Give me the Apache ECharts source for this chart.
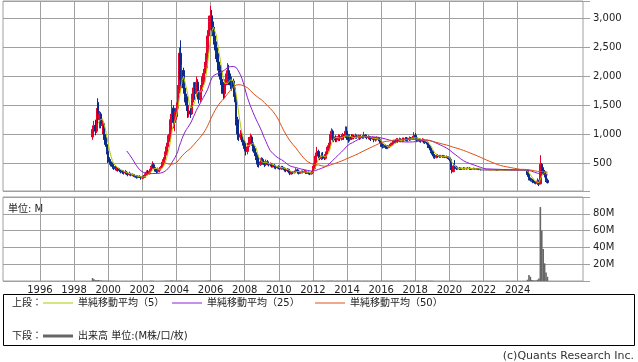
<!DOCTYPE html>
<html><head><meta charset="utf-8">
<script src="https://cdn.jsdelivr.net/npm/echarts@6/dist/echarts.min.js"></script>
<style>html,body{margin:0;padding:0;background:#fff}#c{width:638px;height:362px}</style>
</head><body><div id="c"></div>
<script>
// ---- axis categories (monthly) ----
const FIRST_CATEGORY = [1993, 11];
const CATEGORY_COUNT = 409;
const DATA_START = '1999-02';
const yearTicks = [1996,1998,2000,2002,2004,2006,2008,2010,2012,2014,2016,2018,2020,2022,2024];

// ---- monthly OHLC [open, close, low, high] ----
const ohlc1999 = [[950,1080,900,1150],[1080,1150,1000,1230],[1150,1050,980,1250],[1050,1400,1020,1450],[1550,1250,1180,1620],[1250,1350,1100,1400],[1350,1150,1100,1380],[1150,1180,1000,1250],[1180,950,900,1220],[950,820,780,1000],[820,700,650,860]];
const ohlc2000 = [[700,560,500,760],[560,520,470,600],[520,480,440,560],[480,440,400,510],[440,420,380,470],[420,400,370,450],[400,410,360,440],[410,380,350,430],[380,370,340,410],[370,350,320,390],[350,340,310,380],[340,330,300,370]];
const ohlc2001 = [[330,340,300,380],[340,320,290,360],[320,300,270,340],[300,310,280,350],[310,290,270,330],[290,300,270,320],[300,280,260,310],[280,270,250,300],[270,250,230,290],[250,270,235,290],[270,255,240,285],[255,240,210,270]];
const ohlc2002 = [[240,260,220,280],[260,250,230,290],[250,300,240,320],[300,340,280,370],[340,320,300,380],[320,360,300,400],[360,420,340,450],[420,470,400,530],[470,420,400,500],[420,380,350,440],[380,350,320,400],[350,380,330,420]];
const ohlc2003 = [[380,400,340,430],[400,420,370,450],[420,480,400,520],[480,560,450,600],[560,650,530,700],[650,780,630,850],[780,900,750,980],[900,1000,860,1070],[1000,1250,980,1350],[1250,1450,1200,1590],[1450,1200,1100,1500],[1200,1300,1050,1400]];
const ohlc2004 = [[1300,1450,1250,1550],[1450,1750,1400,1850],[1750,2400,1700,2500],[2400,1950,1850,2625],[1950,2100,1800,2200],[2100,1800,1700,2150],[1800,1650,1550,1900],[1650,1500,1400,1700],[1500,1350,1280,1550],[1350,1400,1290,1500],[1400,1350,1280,1480],[1350,1600,1330,1700]];
const ohlc2005 = [[1600,1800,1550,1900],[1800,1700,1600,1900],[1700,1900,1650,2000],[1900,1700,1600,1950],[1700,1600,1530,1800],[1600,1750,1550,1850],[1750,1900,1700,2000],[1900,2050,1850,2130],[2050,2150,1900,2250],[2150,2400,2100,2500],[2400,2700,2350,2800],[2700,2950,2650,3050]];
const ohlc2006 = [[2950,3050,2800,3220],[3050,2850,2700,3150],[2850,2700,2550,2950],[2700,2600,2450,2850],[2600,2400,2300,2700],[2400,2250,2100,2500],[2250,2100,2000,2350],[2100,1950,1850,2200],[1950,1800,1700,2050],[1800,1700,1600,1900],[1700,1850,1620,1950],[1850,1950,1750,2050]];
const ohlc2007 = [[1950,2100,1850,2230],[2100,1950,1850,2200],[1950,1850,1780,2050],[1850,1920,1750,2000],[1920,1800,1700,1960],[1800,1650,1550,1850],[1650,1250,1150,1700],[1250,1000,900,1300],[1000,950,880,1080],[950,1000,900,1070],[1000,900,860,1050],[900,850,800,950]];
const ohlc2008 = [[850,750,700,900],[750,700,630,800],[700,780,650,850],[780,880,720,950],[880,950,820,1010],[950,850,800,980],[850,750,700,880],[750,680,620,800],[680,600,550,720],[600,480,430,650],[480,470,420,540],[470,520,450,580]];
const ohlc2009 = [[520,560,480,600],[560,500,470,590],[500,470,430,530],[470,520,450,560],[520,490,460,550],[490,470,440,520],[470,480,440,510],[480,450,420,500],[450,460,420,490],[460,430,400,480],[430,420,390,460],[420,430,400,450]];
const ohlc2010 = [[430,420,390,460],[420,400,380,440],[400,430,380,450],[430,410,390,450],[410,380,350,420],[380,370,340,400],[370,390,350,410],[390,350,320,400],[350,310,290,360],[310,340,300,360],[340,330,310,360],[330,350,320,370]];
const ohlc2011 = [[350,380,330,410],[380,360,340,400],[360,320,300,380],[320,340,310,360],[340,350,320,370],[350,340,320,370],[340,360,330,380],[360,330,310,370],[330,340,310,360],[340,320,300,350],[320,310,290,340],[310,330,300,360]];
const ohlc2012 = [[330,400,320,450],[400,500,380,560],[500,620,480,680],[620,700,580,780],[700,620,580,730],[620,580,550,660],[580,620,550,680],[620,600,560,690],[600,580,550,640],[580,650,560,700],[650,720,620,780],[720,800,700,850]];
const ohlc2013 = [[800,950,780,1000],[950,1050,900,1100],[1050,900,870,1080],[900,950,860,1000],[950,900,860,980],[900,920,860,960],[920,960,880,1000],[960,920,880,990],[920,950,890,1000],[950,980,900,1020],[980,950,900,1000],[950,1050,930,1135]];
const ohlc2014 = [[1050,950,900,1130],[950,900,850,1000],[900,950,870,1000],[950,930,900,1000],[930,960,910,1000],[960,940,910,990],[940,970,920,1010],[970,950,920,990],[950,960,920,990],[960,940,900,980],[940,960,910,990],[960,950,920,980]];
const ohlc2015 = [[950,980,920,1040],[980,960,930,1000],[960,940,910,990],[940,950,910,980],[950,930,900,970],[930,920,880,960],[920,940,900,960],[940,900,860,950],[900,920,870,950],[920,930,890,960],[930,910,880,950],[910,880,840,930]];
const ohlc2016 = [[880,820,780,900],[820,780,750,840],[780,800,760,830],[800,770,745,820],[770,760,740,800],[760,780,740,810],[780,800,760,830],[800,820,780,850],[820,850,800,880],[850,880,820,900],[880,860,840,910],[860,900,850,930]];
const ohlc2017 = [[900,880,850,930],[880,900,860,940],[900,890,860,930],[890,910,860,940],[910,900,870,940],[900,920,880,950],[920,900,870,950],[900,910,870,940],[910,930,880,960],[930,920,890,950],[920,940,900,970],[940,980,920,1035]];
const ohlc2018 = [[980,930,900,1020],[930,900,860,950],[900,910,870,940],[910,890,860,930],[890,880,850,920],[880,900,860,930],[900,880,840,920],[880,860,830,900],[860,850,820,890],[850,800,760,870],[800,760,720,820],[760,700,670,780]];
const ohlc2019 = [[700,650,620,720],[650,620,580,680],[620,600,570,650],[600,630,580,660],[630,620,590,650],[620,610,590,640],[610,620,590,640],[620,610,590,640],[610,615,590,640],[615,600,585,630],[600,610,580,630],[610,590,570,620]];
const ohlc2020 = [[590,560,530,600],[560,420,380,580],[420,350,320,450],[350,450,340,500],[450,430,400,550],[430,400,380,450],[400,410,380,430],[410,400,380,430],[400,395,380,420],[395,400,380,420],[400,410,385,430],[410,400,385,420]];
const ohlc2021 = [[400,405,385,420],[405,410,390,430],[410,400,385,425],[400,395,380,415],[395,400,380,410],[400,405,385,420],[405,395,380,415],[395,400,380,410],[400,395,380,410],[395,390,375,405],[390,385,370,400],[385,385,375,395]];
const ohlc2022 = [[385,382,378,388],[382,384,379,387],[384,381,378,386],[381,383,379,386],[383,380,377,385],[380,382,378,385],[382,381,378,384],[381,383,379,386],[383,380,377,385],[380,379,376,383],[379,381,377,384],[381,380,377,383]];
const ohlc2023 = [[380,382,378,385],[382,379,376,384],[379,381,377,383],[381,380,377,383],[380,378,375,382],[378,380,376,382],[380,381,377,383],[381,379,376,383],[379,378,375,381],[378,380,376,382],[380,379,376,382],[379,378,375,381]];
const ohlc2024 = [[378,380,376,382],[380,379,376,382],[379,381,377,383],[381,380,377,383],[380,382,378,384],[382,381,378,384],[381,380,377,383],[380,300,260,385],[300,230,200,320],[230,200,180,250],[200,210,170,240],[210,170,150,220]];
const ohlc2025 = [[170,160,140,190],[160,150,130,180],[150,190,120,235],[190,130,100,210],[140,480,130,635],[480,420,330,500],[420,350,320,460],[350,300,250,380],[300,200,170,345],[200,160,145,230]];

// ---- monthly volume (M shares) ----
const vol1999 = [3.5,2.2,1.0,0.8,1.2,0.6,0.5,0.4,0.4,0.3,0.3];
const vol2000 = [0.3,0.2,0.2,0.2,0.2,0.1,0.2,0.1,0.1,0.1,0.1,0.1];
const vol2001 = [0.1,0.1,0.1,0.1,0.1,0.1,0.1,0.1,0.1,0.1,0.1,0.1];
const vol2002 = [0.1,0.1,0.1,0.2,0.1,0.2,0.2,0.3,0.2,0.1,0.1,0.1];
const vol2003 = [0.1,0.1,0.2,0.2,0.3,0.4,0.4,0.4,0.5,0.5,0.4,0.3];
const vol2004 = [0.3,0.4,0.5,0.5,0.4,0.3,0.3,0.2,0.2,0.2,0.2,0.3];
const vol2005 = [0.3,0.2,0.3,0.2,0.2,0.2,0.3,0.3,0.3,0.4,0.4,0.5];
const vol2006 = [0.5,0.4,0.3,0.3,0.3,0.2,0.2,0.2,0.2,0.2,0.2,0.2];
const vol2007 = [0.2,0.2,0.2,0.2,0.2,0.2,0.4,0.3,0.2,0.2,0.2,0.2];
const vol2008 = [0.2,0.2,0.2,0.2,0.2,0.2,0.1,0.1,0.1,0.2,0.1,0.1];
const vol2009 = [0.1,0.1,0.1,0.1,0.1,0.1,0.1,0.1,0.1,0.1,0.1,0.1];
const vol2010 = [0.1,0.1,0.1,0.1,0.1,0.1,0.1,0.1,0.1,0.1,0.1,0.1];
const vol2011 = [0.1,0.1,0.1,0.1,0.1,0.1,0.1,0.1,0.1,0.1,0.1,0.1];
const vol2012 = [0.2,0.3,0.3,0.3,0.2,0.2,0.2,0.2,0.2,0.2,0.3,0.3];
const vol2013 = [0.3,0.4,0.3,0.2,0.2,0.2,0.2,0.2,0.2,0.2,0.2,0.3];
const vol2014 = [0.3,0.2,0.2,0.2,0.2,0.2,0.2,0.2,0.2,0.2,0.2,0.2];
const vol2015 = [0.2,0.2,0.2,0.2,0.2,0.2,0.2,0.2,0.2,0.2,0.2,0.2];
const vol2016 = [0.2,0.2,0.2,0.2,0.2,0.2,0.2,0.2,0.2,0.2,0.2,0.2];
const vol2017 = [0.2,0.2,0.2,0.2,0.2,0.2,0.2,0.2,0.2,0.2,0.2,0.3];
const vol2018 = [0.3,0.2,0.2,0.2,0.2,0.2,0.2,0.2,0.2,0.2,0.2,0.2];
const vol2019 = [0.2,0.2,0.1,0.1,0.1,0.1,0.1,0.1,0.1,0.1,0.1,0.1];
const vol2020 = [0.1,0.3,0.3,0.2,0.2,0.1,0.1,0.1,0.1,0.1,0.1,0.1];
const vol2021 = [0.1,0.1,0.1,0.1,0.1,0.1,0.1,0.1,0.1,0.1,0.1,0.1];
const vol2022 = [0.1,0.1,0.1,0.1,0.1,0.1,0.1,0.1,0.1,0.1,0.1,0.1];
const vol2023 = [0.1,0.1,0.1,0.1,0.1,0.1,0.1,0.1,0.1,0.1,0.1,0.1];
const vol2024 = [0.1,0.1,0.1,0.1,0.1,0.1,0.1,1.5,7.0,5.0,1.2,0.8];
const vol2025 = [0.6,0.5,1.5,3.0,88,60,38,21,10,5];

// ---- series names / colours ----
const maPeriods = [5, 25, 50];
const maNames = ['単純移動平均（5）','単純移動平均（25）','単純移動平均（50）'];
const maColors = ['#b0c800','#8c1ed2','#dc5014'];
const volName = '出来高 単位:(M株/口/枚)';

const ohlc = [].concat(ohlc1999,ohlc2000,ohlc2001,ohlc2002,ohlc2003,ohlc2004,ohlc2005,ohlc2006,ohlc2007,ohlc2008,ohlc2009,ohlc2010,ohlc2011,ohlc2012,ohlc2013,ohlc2014,ohlc2015,ohlc2016,ohlc2017,ohlc2018,ohlc2019,ohlc2020,ohlc2021,ohlc2022,ohlc2023,ohlc2024,ohlc2025);
const vol = [].concat(vol1999,vol2000,vol2001,vol2002,vol2003,vol2004,vol2005,vol2006,vol2007,vol2008,vol2009,vol2010,vol2011,vol2012,vol2013,vol2014,vol2015,vol2016,vol2017,vol2018,vol2019,vol2020,vol2021,vol2022,vol2023,vol2024,vol2025);

const cats = [];
for (let i = 0; i < CATEGORY_COUNT; i++) {
  const m0 = FIRST_CATEGORY[1] - 1 + i;
  const y = FIRST_CATEGORY[0] + Math.floor(m0 / 12);
  const m = m0 % 12 + 1;
  cats.push(y + '-' + String(m).padStart(2, '0'));
}
const offset = cats.indexOf(DATA_START);
const months = ohlc.map((d, i) => cats[offset + i]);

const candleData = ohlc.map((d, i) => [months[i], d[0], d[1], d[2], d[3]]);
const volData = vol.map((v, i) => [months[i], v]);
function movingAverage(n) {
  const out = [];
  for (let i = n - 1; i < ohlc.length; i++) {
    let s = 0;
    for (let j = i - n + 1; j <= i; j++) s += ohlc[j][1];
    out.push([months[i], +(s / n).toFixed(2)]);
  }
  return out;
}

const FONT = '"DejaVu Sans","Noto Sans CJK JP",sans-serif';
const GRID_COLOR = '#a0a0a0';
const TEXT_COLOR = '#222';
const isYearTick = (idx, val) => val.endsWith('-01') && yearTicks.includes(+val.slice(0, 4));

const legendCommon = {
  icon: 'rect', itemWidth: 30, itemHeight: 1, padding: 0, selectedMode: false,
  textStyle: { fontSize: 10, color: TEXT_COLOR, fontFamily: FONT }
};

const chart = echarts.init(document.getElementById('c'), null, { renderer: 'canvas' });
chart.setOption({
  animation: false,
  backgroundColor: '#fff',
  textStyle: { fontFamily: FONT },
  grid: [
    { left: 3, right: 55, top: 1, height: 190, show: true, borderColor: GRID_COLOR, borderWidth: 1 },
    { left: 3, right: 55, top: 197, height: 84, show: true, borderColor: GRID_COLOR, borderWidth: 1 }
  ],
  xAxis: [
    { type: 'category', gridIndex: 0, data: cats, boundaryGap: false,
      axisLine: { show: false }, axisTick: { show: false }, axisLabel: { show: false },
      splitLine: { show: true, interval: isYearTick, lineStyle: { color: GRID_COLOR, width: 1 } } },
    { type: 'category', gridIndex: 1, data: cats, boundaryGap: false,
      axisLine: { show: false }, axisTick: { show: false },
      axisLabel: { show: true, interval: isYearTick, formatter: v => v.slice(0, 4), fontSize: 10, color: TEXT_COLOR, margin: 4, fontFamily: FONT },
      splitLine: { show: true, interval: isYearTick, lineStyle: { color: GRID_COLOR, width: 1 } } }
  ],
  yAxis: [
    { type: 'value', gridIndex: 0, position: 'right', min: 15, max: 3305, splitNumber: 5, scale: false,
      axisLine: { show: false },
      axisTick: { show: true, length: 7, lineStyle: { color: GRID_COLOR } },
      axisLabel: { margin: 10, fontSize: 10, color: TEXT_COLOR, fontFamily: FONT,
        formatter: v => (v > 0 && v % 500 === 0) ? String(v).replace(/\B(?=(\d{3})+(?!\d))/g, ',') : '' },
      splitLine: { show: true, lineStyle: { color: GRID_COLOR, width: 1 } } },
    { type: 'value', gridIndex: 1, position: 'right', min: 0, max: 100, interval: 20,
      axisLine: { show: false },
      axisTick: { show: true, length: 7, lineStyle: { color: GRID_COLOR } },
      axisLabel: { margin: 10, fontSize: 10, color: TEXT_COLOR, fontFamily: FONT,
        formatter: v => (v > 0 && v < 100) ? v + 'M' : '' },
      splitLine: { show: true, lineStyle: { color: GRID_COLOR, width: 1 } } }
  ],
  legend: [
    Object.assign({ data: [maNames[0]], left: 43, top: 298 }, legendCommon),
    Object.assign({ data: [maNames[1]], left: 172, top: 298 }, legendCommon),
    Object.assign({ data: [maNames[2]], left: 315, top: 298 }, legendCommon),
    Object.assign({}, legendCommon, { data: [volName], left: 43, top: 331, itemHeight: 3 })
  ],
  graphic: [
    { type: 'rect', shape: { x: 3.5, y: 294.5, width: 631, height: 51 }, style: { fill: 'none', stroke: '#000', lineWidth: 1 } },
    { type: 'text', left: 12, top: 298, style: { text: '上段：', font: '10px ' + FONT, fill: TEXT_COLOR } },
    { type: 'text', left: 12, top: 331, style: { text: '下段：', font: '10px ' + FONT, fill: TEXT_COLOR } },
    { type: 'text', left: 8, top: 204, style: { text: '単位: M', font: '10px ' + FONT, fill: TEXT_COLOR } },
    { type: 'text', right: 4, top: 351, style: { text: '(c)Quants Research Inc.', font: '11px ' + FONT, fill: '#333' } }
  ],
  series: [
    { name: '株価', type: 'candlestick', xAxisIndex: 0, yAxisIndex: 0, data: candleData,
      encode: { x: 0, y: [1, 2, 3, 4] }, barWidth: 2,
      itemStyle: { color: '#e6002e', color0: '#0b2b8c', borderColor: '#e6002e', borderColor0: '#0b2b8c', borderWidth: 1 } },
    ...maPeriods.map((p, k) => ({
      name: maNames[k], type: 'line', xAxisIndex: 0, yAxisIndex: 0, data: movingAverage(p),
      showSymbol: false, symbol: 'none', smooth: false,
      lineStyle: { color: maColors[k], width: 1 }, itemStyle: { color: maColors[k] }
    })),
    { name: volName, type: 'bar', xAxisIndex: 1, yAxisIndex: 1, data: volData,
      barWidth: 1.6, itemStyle: { color: '#666' } }
  ]
});
</script></body></html>
